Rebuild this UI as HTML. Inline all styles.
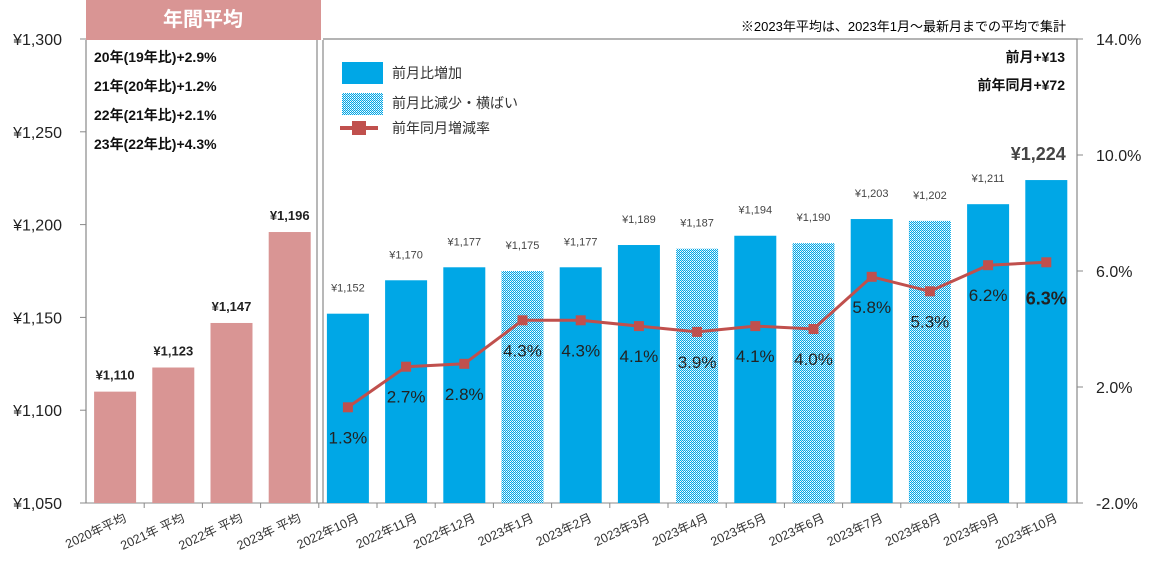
<!DOCTYPE html>
<html><head><meta charset="utf-8"><style>
body{margin:0;background:#fff;}
svg text{font-family:"Liberation Sans","Noto Sans CJK JP",sans-serif;}
</style></head><body>
<svg id="c" width="1152" height="567" xmlns="http://www.w3.org/2000/svg">
<defs>
<pattern id="hatch" width="2" height="2" patternUnits="userSpaceOnUse">
<rect width="2" height="2" fill="#fff"/>
<rect width="1" height="1" fill="#00a7e6"/>
<rect x="1" y="1" width="1" height="1" fill="#00a7e6"/>
<rect x="1" y="0" width="1" height="1" fill="#bfe6f7"/>
</pattern>
</defs>
</svg>
<script>
const categories=["2020年平均","2021年 平均","2022年 平均","2023年 平均","2022年10月","2022年11月","2022年12月","2023年1月","2023年2月","2023年3月","2023年4月","2023年5月","2023年6月","2023年7月","2023年8月","2023年9月","2023年10月"];
const prices=[1110,1123,1147,1196,1152,1170,1177,1175,1177,1189,1187,1194,1190,1203,1202,1211,1224];
const kinds=["avg","avg","avg","avg","up","up","up","down","up","up","down","up","down","up","down","up","up"];
const yoy=[null,null,null,null,1.3,2.7,2.8,4.3,4.3,4.1,3.9,4.1,4.0,5.8,5.3,6.2,6.3];
const leftTicks=[1050,1100,1150,1200,1250,1300];
const rightTicks=[-2,2,6,10,14];
const NS="http://www.w3.org/2000/svg";
const svg=document.getElementById('c');
const X0=86,STEP=58.2,BW=42,YT=39,YB=503;
const yL=v=>YB-(v-1050)/250*(YB-YT);
const yR=v=>YB-(v+2)/16*(YB-YT);
const xC=i=>X0+STEP*(i+0.5);
function mk(tag,attrs,txt){const e=document.createElementNS(NS,tag);for(const k in attrs)e.setAttribute(k,attrs[k]);if(txt!==undefined)e.textContent=txt;svg.appendChild(e);return e;}
function fmt(v){return "¥"+v.toLocaleString("en-US");}
let h=mk('rect',{x:86,y:0,width:235,height:40,fill:'#d99594'});


let ht=mk('text',{x:203,y:26,'text-anchor':'middle','font-size':20,'font-weight':'bold',fill:'#fff'},'年間平均');


let note=mk('text',{x:1066,y:31,'text-anchor':'end','font-size':13,fill:'#000'},'※2023年平均は、2023年1月～最新月までの平均で集計');


mk('path',{d:'M86,40 V503 M317,40 V503 M323,40 V503 M323,39 H1077 V503',stroke:'#888',fill:'none','stroke-width':1.2});
mk('line',{x1:80,y1:503,x2:1077,y2:503,stroke:'#888'});
leftTicks.forEach(v=>{
 mk('line',{x1:80,y1:yL(v),x2:86,y2:yL(v),stroke:'#888'});
 let t=mk('text',{x:62,y:yL(v)+6,'text-anchor':'end','font-size':16,fill:'#222'},fmt(v));
 
 
});
rightTicks.forEach(v=>{
 mk('line',{x1:1077,y1:yR(v),x2:1083,y2:yR(v),stroke:'#888'});
 let t=mk('text',{x:1096,y:yR(v)+6,'font-size':16,fill:'#222'},v.toFixed(1)+'%');
 
 
});
prices.forEach((v,i)=>{
 const k=kinds[i];
 const fill=k==='avg'?'#d99594':k==='up'?'#00a7e6':'url(#hatch)';
 let r=mk('rect',{x:xC(i)-BW/2,y:yL(v),width:BW,height:YB-yL(v),fill:fill});
 
 
 let last=i===prices.length-1;
 let t=mk('text',{x:last?xC(i)-8:xC(i),y:yL(v)-(last?20:k==='avg'?12:22),'text-anchor':'middle','font-size':last?18:(k==='avg'?13:11),'font-weight':(last||k==='avg')?'bold':'normal',fill:last?'#444':(k==='avg'?'#222':'#444')},fmt(v));
 
 
 if(i>0) mk('line',{x1:X0+STEP*i,y1:503,x2:X0+STEP*i,y2:508,stroke:'#888'});
 let xl=mk('text',{x:xC(i)+12,y:521,'text-anchor':'end','font-size':12.5,fill:'#333',transform:`rotate(-25 ${xC(i)+12} 521)`},categories[i]);
 
 
});
let pts=[];yoy.forEach((v,i)=>{if(v!==null)pts.push([xC(i),yR(v)]);});
let pl=mk('polyline',{points:pts.map(p=>p.join(',')).join(' '),fill:'none',stroke:'#c0504d','stroke-width':3});


yoy.forEach((v,i)=>{if(v===null)return;
 let m=mk('rect',{x:xC(i)-5,y:yR(v)-5,width:10,height:10,fill:'#c0504d'});
 
 
 let last=i===yoy.length-1;
 let t=mk('text',{x:xC(i),y:yR(v)+(last?42:36),'text-anchor':'middle','font-size':last?18:17,'font-weight':last?'bold':'normal',fill:'#222'},v.toFixed(1)+'%');
 
 
});
["20年(19年比)+2.9%","21年(20年比)+1.2%","22年(21年比)+2.1%","23年(22年比)+4.3%"].forEach((s,i)=>{
 let t=mk('text',{x:94,y:62+i*29,'font-size':14,'font-weight':'bold',fill:'#111'},s);
 
 
});
let d1=mk('text',{x:1065,y:62,'text-anchor':'end','font-size':14,'font-weight':'bold',fill:'#111'},'前月+¥13');


let d2=mk('text',{x:1065,y:90,'text-anchor':'end','font-size':14,'font-weight':'bold',fill:'#111'},'前年同月+¥72');


let l1=mk('rect',{x:342,y:62,width:41,height:22,fill:'#00a7e6'});


mk('text',{x:392,y:78,'font-size':14,fill:'#333'},'前月比増加');
let l2=mk('rect',{x:342,y:93,width:41,height:22,fill:'url(#hatch)'});


mk('text',{x:392,y:108,'font-size':14,fill:'#333'},'前月比減少・横ばい');
mk('line',{x1:340,y1:128,x2:378,y2:128,stroke:'#c0504d','stroke-width':4});
let l3=mk('rect',{x:352,y:121,width:14,height:14,fill:'#c0504d'});


mk('text',{x:392,y:133,'font-size':14,fill:'#333'},'前年同月増減率');
</script>
</body></html>
